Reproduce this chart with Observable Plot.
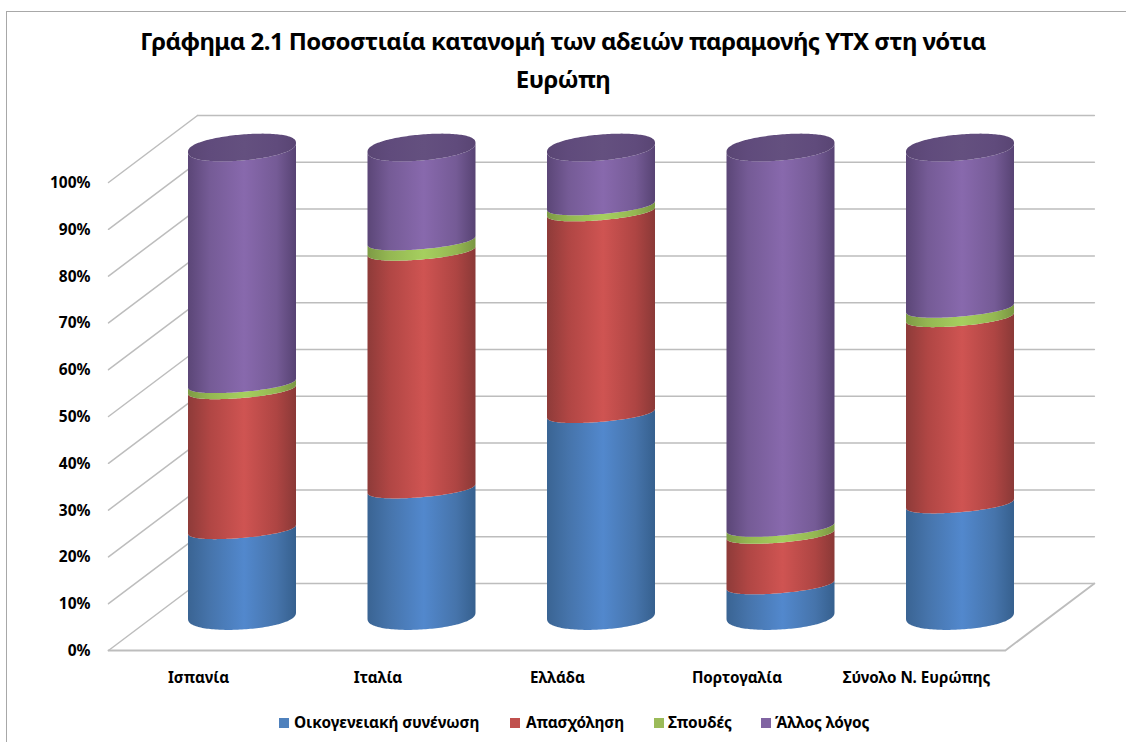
<!DOCTYPE html>
<html lang="el">
<head>
<meta charset="utf-8">
<script src="https://cdn.jsdelivr.net/npm/d3@7"></script>
<script src="https://cdn.jsdelivr.net/npm/@observablehq/plot@0.6"></script>
<style>
  html,body{margin:0;padding:0;background:#fff;}
  body{font-family:"Noto Sans",sans-serif;font-weight:700;color:#000;}
  #frame{position:relative;width:1126px;height:742px;overflow:hidden;box-sizing:border-box;}
  #border{position:absolute;left:6px;top:11px;right:-5px;bottom:-5px;border:1.5px solid #a8a8a8;pointer-events:none;}
  #title{position:absolute;left:0;top:22px;width:1126px;text-align:center;font-size:24px;line-height:37.5px;letter-spacing:-.55px;}
  #chart{position:absolute;left:0;top:100px;}
  #chart svg{display:block;overflow:visible;}
  #legend{position:absolute;top:713px;left:0;height:20px;width:1126px;font-size:15.4px;line-height:20px;letter-spacing:-.1px;}
  #legend .k{position:absolute;top:0;white-space:nowrap;}
  #legend .s{position:absolute;top:5px;width:10px;height:10px;}
</style>
</head>
<body>
<div id="frame">
  <div id="border"></div>
  <div id="title"></div>
  <div id="chart"></div>
  <div id="legend"></div>
</div>
<script>
const titleLines = ["Γράφημα 2.1 Ποσοστιαία κατανομή των αδειών παραμονής ΥΤΧ στη νότια", "Ευρώπη"];
const countries = ["Ισπανία", "Ιταλία", "Ελλάδα", "Πορτογαλία", "Σύνολο Ν. Ευρώπης"];
const seriesNames = ["Οικογενειακή συνένωση", "Απασχόληση", "Σπουδές", "Άλλος λόγος"];
const family = [18.5, 27.2, 43.3, 6.7, 24.0];
const employment = [29.9, 50.8, 43.1, 10.8, 39.8];
const studies = [1.3, 2.2, 1.3, 1.5, 2.0];
const other = [50.3, 19.8, 12.3, 81.0, 34.2];
const tickValues = [0, 10, 20, 30, 40, 50, 60, 70, 80, 90, 100];
const legendSwatchX = [279, 510, 654, 761];
const legendTextX = [294, 526, 668, 775];
const seriesKeys = ["blue", "red", "green", "purple"];
const seriesValues = [family, employment, studies, other];

const stops = {
  blue:   ["#3a6493", "#4674ab", "#5288cd", "#4674ab", "#36608e"],
  red:    ["#8e3b39", "#b04644", "#cf5452", "#ae4543", "#8a3937"],
  green:  ["#7d9a45", "#94b752", "#a6cf5f", "#94b752", "#7a9643"],
  purple: ["#5b4677", "#755b96", "#8869ad", "#755b96", "#574373"],
  lid:    ["#5a4674", "#604b7c", "#64507f", "#604b7c", "#594573"]
};

// Projection in data units: x in category steps, y in percent points
const pxPerX = 179.5, pxPerY = 4.68;
const depthX = 89 / pxPerX, depthY = 67 / pxPerY;     // floor depth
const barDepthY = 34.5 / pxPerY;                      // bar centre line above the front edge
const radius = 54 / pxPerX, tilt = 4.5 / pxPerY;
const rimBase = 14 / pxPerY, rimInner = 9 / pxPerY, rimTop = 13 / pxPerY;
const frontLeft = -0.7465, frontRight = 4.25;

const angles = d3.range(0, 81).map(i => i / 80 * Math.PI);
const rimAt = (level) => level === 0 ? rimBase : Math.abs(level - 100) < 0.01 ? rimTop : rimInner;
const arc = (level, t) => rimAt(level) * Math.pow(Math.sin(t), 0.85) - (level === 0 ? tilt * 0.7 : tilt) * Math.cos(t);
const stack = [];
const lids = [];
countries.forEach((c, i) => {
  let base = 0;
  seriesKeys.forEach((key, j) => {
    const top = base + seriesValues[j][i];
    for (const t of angles) {
      stack.push({
        country: c, key,
        x: i + radius * Math.cos(t),
        y1: base + barDepthY - arc(base, t),
        y2: top + barDepthY - arc(top, t)
      });
    }
    base = top;
  });
  for (const t of angles) {
    const k = tilt * Math.cos(t), r = rimTop * Math.pow(Math.sin(t), 0.85);
    lids.push({country: c, x: i + radius * Math.cos(t), y1: 100 + barDepthY - r + k, y2: 100 + barDepthY + r + k});
  }
});

const wallLines = tickValues.map(v => ({v, pts: [[frontLeft + depthX, v + depthY], [frontRight + depthX, v + depthY]]}));
const sideLines = tickValues.map(v => ({v, pts: [[frontLeft, v], [frontLeft + depthX, v + depthY]]}));
const lineRows = [...wallLines, ...sideLines].flatMap((l, n) => l.pts.map(p => ({n, x: p[0], y: p[1]})));
const floorRows = [[frontLeft, 0], [frontRight, 0], [frontRight + depthX, depthY]].map(p => ({x: p[0], y: p[1]}));

const defs = () => {
  const ns = "http://www.w3.org/2000/svg";
  const d = document.createElementNS(ns, "defs");
  for (const [k, cols] of Object.entries(stops)) {
    const g = document.createElementNS(ns, "linearGradient");
    g.setAttribute("id", "grad-" + k);
    g.setAttribute("x1", "0"); g.setAttribute("x2", "1"); g.setAttribute("y1", "0"); g.setAttribute("y2", "0");
    [0, 0.2, 0.52, 0.82, 1].forEach((o, i) => {
      const s = document.createElementNS(ns, "stop");
      s.setAttribute("offset", o);
      s.setAttribute("stop-color", cols[i]);
      g.appendChild(s);
    });
    d.appendChild(g);
  }
  return d;
};

const labelFont = {fontFamily: "'Noto Sans',sans-serif", fontWeight: 700, fontSize: 15.5, fill: "#000"};

const chart = Plot.plot({
  width: 1126,
  height: 600,
  margin: 0,
  x: {type: "linear", domain: [0, 4], range: [242, 960], axis: null},
  y: {type: "linear", domain: [0, 100], range: [550, 82], axis: null},
  marks: [
    defs,
    Plot.line(lineRows, {x: "x", y: "y", z: "n", stroke: "#bdbdbd", strokeWidth: 1.5}),
    Plot.line(floorRows, {x: "x", y: "y", stroke: "#bdbdbd", strokeWidth: 1.8}),
    ...seriesKeys.map(key => Plot.area(stack.filter(d => d.key === key), {
      x1: "x", y1: "y1", y2: "y2", z: "country", fill: `url(#grad-${key})`, curve: "linear"
    })),
    Plot.area(lids, {x1: "x", y1: "y1", y2: "y2", z: "country", fill: "url(#grad-lid)"}),
    Plot.text(tickValues, {
      x: () => frontLeft, y: d => d, text: d => d + "%", textAnchor: "end", dx: -18, dy: 0.5, ...labelFont
    }),
    Plot.text(countries, {
      x: (d, i) => i - 44 / pxPerX, y: () => -5.8, text: d => d, ...labelFont, fontSize: 15.2
    })
  ]
});
document.getElementById("chart").appendChild(chart);

document.getElementById("title").innerHTML = titleLines.join("<br>");
const legend = document.getElementById("legend");
seriesNames.forEach((name, i) => {
  const s = document.createElement("span");
  s.className = "s";
  s.style.left = legendSwatchX[i] + "px";
  s.style.background = ["#4f81bd", "#c0504d", "#9bbb59", "#8064a2"][i];
  legend.appendChild(s);
  const t = document.createElement("span");
  t.className = "k";
  t.style.left = legendTextX[i] + "px";
  t.textContent = name;
  legend.appendChild(t);
});
</script>
</body>
</html>
